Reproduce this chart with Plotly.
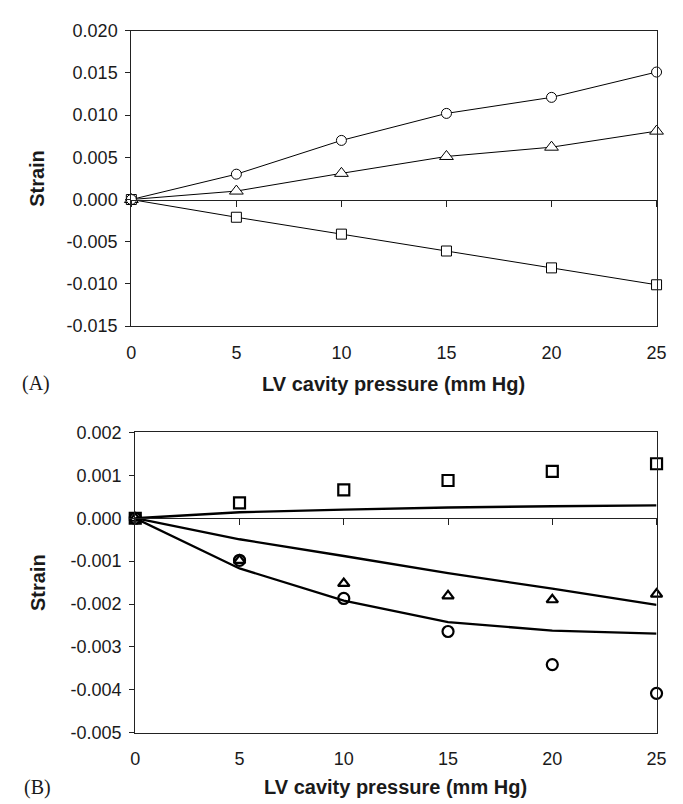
import plotly.graph_objects as go

# ---------------- data ----------------
pressure = [0, 5, 10, 15, 20, 25]

# Panel A (markers + lines)
a_circle = [0.0, 0.0030, 0.0070, 0.0102, 0.0121, 0.0151]
a_triangle = [0.0, 0.0010, 0.0031, 0.0051, 0.0062, 0.0081]
a_square = [0.0, -0.0021, -0.0041, -0.0061, -0.0081, -0.0101]

# Panel B (measured markers)
b_square = [0.0, 0.00036, 0.00066, 0.00088, 0.00109, 0.00127]
b_triangle = [0.0, -0.00098, -0.00152, -0.00181, -0.00190, -0.00177]
b_circle = [0.0, -0.00098, -0.00187, -0.00264, -0.00341, -0.00408]
# Panel B (model curves)
b_line_sq = [0.0, 0.00014, 0.00020, 0.00025, 0.00028, 0.00030]
b_line_tri = [0.0, -0.00049, -0.00088, -0.00128, -0.00164, -0.00202]
b_line_cir = [0.0, -0.00117, -0.00192, -0.00242, -0.00262, -0.00269]

x_ticks = [0, 5, 10, 15, 20, 25]
a_yticks = [-0.015, -0.010, -0.005, 0.0, 0.005, 0.010, 0.015, 0.020]
a_yticktext = ["-0.015", "-0.010", "-0.005", "0.000", "0.005", "0.010", "0.015", "0.020"]
b_yticks = [-0.005, -0.004, -0.003, -0.002, -0.001, 0.0, 0.001, 0.002]
b_yticktext = ["-0.005", "-0.004", "-0.003", "-0.002", "-0.001", "0.000", "0.001", "0.002"]

x_title = "LV cavity pressure (mm Hg)"
y_title = "Strain"

# ---------------- layout geometry ----------------
W, H = 683, 804
def px(x):
    return x / W
def py(y):
    return 1 - y / H

A_x = [px(121), px(658)]
A_y = [py(316), py(13)]
B_x = [px(125), px(658)]
B_y = [py(733), py(425)]
A_range = [-0.015, 0.020]
B_range = [-0.005, 0.002]
A_zero = A_y[0] + (0 - A_range[0]) / (A_range[1] - A_range[0]) * (A_y[1] - A_y[0])
B_zero = B_y[0] + (0 - B_range[0]) / (B_range[1] - B_range[0]) * (B_y[1] - B_y[0])

INK = "#1a1a1a"
TICKFONT = dict(family="Liberation Sans, Arial, sans-serif", size=18, color=INK)
TITLEFONT = dict(family="Liberation Sans, Arial, sans-serif", size=20, color=INK)

fig = go.Figure()

# Panel A
for vals, sym, sz in [(a_square, "square", 10), (a_triangle, "triangle-up", 12), (a_circle, "circle", 10)]:
    fig.add_trace(go.Scatter(
        x=pressure, y=vals, mode="lines+markers", xaxis="x", yaxis="y",
        line=dict(color="black", width=1),
        marker=dict(symbol=sym, size=sz, color="white",
                    line=dict(color="black", width=1)),
        cliponaxis=False, showlegend=False, hoverinfo="skip"))

# Panel B model lines
for vals in [b_line_sq, b_line_tri, b_line_cir]:
    fig.add_trace(go.Scatter(
        x=pressure, y=vals, mode="lines", xaxis="x2", yaxis="y2",
        line=dict(color="black", width=2.3),
        showlegend=False, hoverinfo="skip"))

# Panel B markers
for vals, sym, sz in [(b_square, "square", 11), (b_triangle, "triangle-up", 10), (b_circle, "circle", 11)]:
    fig.add_trace(go.Scatter(
        x=pressure, y=vals, mode="markers", xaxis="x2", yaxis="y2",
        marker=dict(symbol=sym + "-open", size=sz, color="black",
                    line=dict(color="black", width=2.2)),
        cliponaxis=False, showlegend=False, hoverinfo="skip"))

# empty traces so the zero-line axes get drawn
fig.add_trace(go.Scatter(x=[], y=[], xaxis="x3", yaxis="y", showlegend=False, hoverinfo="skip"))
fig.add_trace(go.Scatter(x=[], y=[], xaxis="x4", yaxis="y2", showlegend=False, hoverinfo="skip"))

def xbottom(domain, anchor):
    return dict(domain=domain, anchor=anchor, range=[0, 25], tickvals=x_ticks,
                ticktext=[str(v) for v in x_ticks], tickfont=TICKFONT,
                showline=True, mirror=True, linecolor="#222", linewidth=1.2,
                ticks="outside", ticklen=10, tickcolor="rgba(0,0,0,0)",
                showgrid=False, zeroline=False, fixedrange=True)

def yleft(domain, anchor, rng, tv, tt):
    return dict(domain=domain, anchor=anchor, range=rng, tickvals=tv, ticktext=tt,
                tickfont=TICKFONT, showline=True, mirror=True, linecolor="#222",
                linewidth=1.2, ticks="outside", ticklen=5, tickcolor="#222",
                tickwidth=1.2, ticklabelstandoff=4,
                showgrid=False, zeroline=False, fixedrange=True)

def xzero(over, pos):
    return dict(overlaying=over, matches=over, anchor="free", position=pos, side="bottom",
                range=[0, 25], tickvals=x_ticks, showticklabels=False,
                showline=True, linecolor="#222", linewidth=1.2,
                ticks="outside", ticklen=6, tickcolor="#222", tickwidth=1.2,
                showgrid=False, zeroline=False, fixedrange=True)

fig.update_layout(
    width=W, height=H, autosize=False,
    margin=dict(l=0, r=0, t=0, b=0),
    paper_bgcolor="white", plot_bgcolor="white",
    xaxis=xbottom(A_x, "y"),
    yaxis=yleft(A_y, "x", A_range, a_yticks, a_yticktext),
    xaxis2=xbottom(B_x, "y2"),
    yaxis2=yleft(B_y, "x2", B_range, b_yticks, b_yticktext),
    xaxis3=xzero("x", A_zero),
    xaxis4=xzero("x2", B_zero),
)

ann = []
ann.append(dict(text="<b>%s</b>" % y_title, x=px(25), y=py(164.5), textangle=-90, font=TITLEFONT))
ann.append(dict(text="<b>%s</b>" % y_title, x=px(25), y=py(579), textangle=-90, font=TITLEFONT))
ann.append(dict(text="<b>%s</b>" % x_title, x=(A_x[0] + A_x[1]) / 2, y=py(375), font=TITLEFONT))
ann.append(dict(text="<b>%s</b>" % x_title, x=(B_x[0] + B_x[1]) / 2, y=py(789), font=TITLEFONT))
ann.append(dict(text="(A)", x=px(24), y=py(375),
                font=dict(family="Liberation Serif, Times New Roman, serif", size=20, color=INK)))
ann.append(dict(text="(B)", x=px(25), y=py(789),
                font=dict(family="Liberation Serif, Times New Roman, serif", size=20, color=INK)))
for a in ann:
    a.update(xref="paper", yref="paper", showarrow=False, xanchor="center", yanchor="middle")
fig.update_layout(annotations=ann)

fig.write_html("out.html")
